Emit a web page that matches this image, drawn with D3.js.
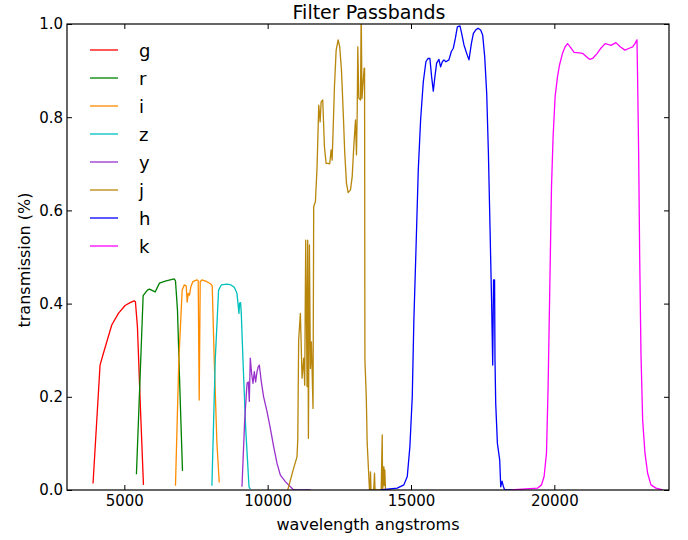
<!DOCTYPE html>
<html>
<head>
<meta charset="utf-8">
<script src="https://cdn.jsdelivr.net/npm/d3@7"></script>
<style>
  body { margin: 0; background: #fff; }
  svg { display: block; font-family: "DejaVu Sans", sans-serif; }
</style>
</head>
<body>
<div id="chart-container"></div>
<script>
const width = 688;
const height = 540;
const margin = { top: 24, right: 20, bottom: 50, left: 67 };

// [wavelength (angstrom), transmission]
const gBand = [[3908,0.014],[4153,0.268],[4268,0.293],[4561,0.354],[4793,0.379],[5027,0.396],[5201,0.402],[5341,0.406],[5387,0.404],[5457,0.350],[5551,0.193],[5667,0.011]];
const rBand = [[5422,0.034],[5656,0.417],[5806,0.429],[5876,0.431],[6075,0.425],[6226,0.444],[6425,0.448],[6599,0.451],[6739,0.453],[6784,0.449],[6854,0.386],[6924,0.243],[7029,0.041]];
const iBand = [[6784,0.009],[6901,0.279],[7018,0.429],[7088,0.440],[7158,0.438],[7193,0.403],[7228,0.422],[7273,0.418],[7320,0.436],[7390,0.447],[7530,0.451],[7577,0.449],[7612,0.193],[7647,0.447],[7706,0.451],[7880,0.447],[8020,0.442],[8066,0.438],[8136,0.279],[8230,0.100],[8311,0.016]];
const zBand = [[8055,0.009],[8171,0.279],[8288,0.429],[8381,0.440],[8580,0.442],[8720,0.440],[8835,0.435],[8929,0.422],[8999,0.379],[9020,0.401],[9055,0.402],[9080,0.379],[9139,0.279],[9230,0.136],[9349,0.007],[9394,0.002]];
const yBand = [[9104,0.007],[9196,0.147],[9280,0.229],[9325,0.232],[9360,0.190],[9394,0.283],[9440,0.250],[9489,0.229],[9534,0.254],[9580,0.232],[9629,0.254],[9674,0.265],[9709,0.268],[9744,0.250],[9779,0.232],[9859,0.200],[9978,0.168],[10093,0.132],[10209,0.093],[10327,0.057],[10443,0.032],[10617,0.018],[10792,0.007],[10907,0],[11500,0]];
const jBand = [[10700,0],[10907,0.047],[11023,0.071],[11050,0.107],[11081,0.322],[11141,0.379],[11200,0.240],[11258,0.283],[11292,0.225],[11327,0.536],[11375,0.222],[11396,0.536],[11421,0.111],[11456,0.526],[11491,0.261],[11526,0.318],[11582,0.175],[11606,0.608],[11666,0.619],[11724,0.694],[11782,0.826],[11830,0.790],[11865,0.833],[11921,0.837],[11980,0.737],[12039,0.701],[12109,0.701],[12165,0.700],[12214,0.730],[12249,0.708],[12284,0.773],[12329,0.865],[12389,0.944],[12459,0.966],[12514,0.951],[12574,0.901],[12633,0.815],[12689,0.723],[12749,0.658],[12808,0.638],[12889,0.644],[12948,0.672],[13004,0.737],[13063,0.794],[13098,0.719],[13123,0.808],[13144,0.951],[13179,0.841],[13239,0.837],[13262,1.03],[13290,0.840],[13365,0.905],[13380,0.905],[13392,0.280],[13440,0.200],[13472,0.100],[13552,0],[13570,0],[13587,0.039],[13605,0],[13700,0],[13727,0.036],[13745,0],[13960,0],[13996,0.118],[14010,0],[14040,0.020],[14052,0.050],[14070,0.010],[14087,0.043],[14110,0],[14300,0]];
const hBand = [[13937,0],[14520,0.004],[14751,0.011],[14870,0.029],[14961,0.093],[15044,0.200],[15100,0.365],[15170,0.508],[15254,0.687],[15335,0.794],[15429,0.876],[15520,0.919],[15590,0.926],[15659,0.926],[15719,0.887],[15778,0.856],[15834,0.887],[15894,0.916],[15974,0.924],[16033,0.908],[16093,0.919],[16149,0.923],[16219,0.919],[16323,0.923],[16407,0.941],[16477,0.948],[16547,0.969],[16617,0.994],[16708,0.996],[16767,0.980],[16848,0.955],[16942,0.937],[17022,0.923],[17106,0.958],[17176,0.980],[17256,0.987],[17337,0.991],[17431,0.987],[17501,0.976],[17571,0.930],[17641,0.851],[17700,0.723],[17756,0.565],[17815,0.393],[17850,0.268],[17880,0.451],[17915,0.451],[17930,0.280],[17955,0.186],[18014,0.100],[18095,0.064],[18130,0.007],[18176,0.019],[18225,0.007],[18270,0],[18600,0]];
const kBand = [[18479,0],[19412,0.004],[19552,0.011],[19643,0.029],[19726,0.079],[19783,0.222],[19842,0.436],[19901,0.651],[19957,0.758],[20027,0.844],[20111,0.887],[20181,0.912],[20286,0.937],[20377,0.951],[20460,0.958],[20551,0.951],[20691,0.939],[20866,0.938],[20985,0.937],[21100,0.931],[21240,0.924],[21334,0.926],[21484,0.936],[21624,0.948],[21774,0.958],[21879,0.956],[21973,0.954],[22148,0.960],[22298,0.951],[22463,0.944],[22613,0.948],[22732,0.951],[22812,0.958],[22882,0.966],[22906,0.880],[22941,0.723],[22976,0.508],[23022,0.293],[23081,0.150],[23162,0.079],[23255,0.036],[23371,0.011],[23546,0.004],[23780,0]];

const bandNames = ["g", "r", "i", "z", "y", "j", "h", "k"];
const bandData = [gBand, rBand, iBand, zBand, yBand, jBand, hBand, kBand];
const bandColors = ["#ff0000", "#008000", "#ff8c00", "#00bfbf", "#9932cc", "#b8860b", "#0000ff", "#ff00ff"];

const xTicks = [5000, 10000, 15000, 20000];
const yTicks = [0, 0.2, 0.4, 0.6, 0.8, 1.0];

const svg = d3
  .select("#chart-container")
  .append("svg")
  .attr("width", width)
  .attr("height", height);

const x = d3
  .scaleLinear()
  .domain([3000, 24000])
  .range([margin.left, width - margin.right + 1]);

const y = d3
  .scaleLinear()
  .domain([0, 1])
  .range([height - margin.bottom, margin.top]);

svg
  .append("clipPath")
  .attr("id", "plot-clip")
  .append("rect")
  .attr("x", x.range()[0])
  .attr("y", y(1))
  .attr("width", x.range()[1] - x.range()[0])
  .attr("height", y(0) - y(1));

const line = d3
  .line()
  .x((d) => x(d[0]))
  .y((d) => y(d[1]));

svg
  .append("g")
  .attr("clip-path", "url(#plot-clip)")
  .selectAll("path")
  .data(bandData)
  .join("path")
  .attr("d", line)
  .attr("fill", "none")
  .attr("stroke", (d, i) => bandColors[i])
  .attr("stroke-width", 1.3)
  .attr("stroke-linejoin", "round");

// axes: ticks point inward on all four sides
const tickLen = 5;

const styleAxis = (g) => {
  g.select(".domain").remove();
  g.selectAll(".tick line").attr("stroke", "#000");
  g.selectAll(".tick text")
    .attr("fill", "#000")
    .style("font-size", "15px")
    .style("font-family", "DejaVu Sans");
};

svg
  .append("g")
  .attr("transform", `translate(0,${y(0)})`)
  .call(d3.axisBottom(x).tickValues(xTicks).tickSizeInner(-tickLen).tickSizeOuter(0).tickPadding(5).tickFormat(d3.format("d")))
  .call(styleAxis);

svg
  .append("g")
  .attr("transform", `translate(0,${y(1)})`)
  .call(d3.axisTop(x).tickValues(xTicks).tickSizeInner(-tickLen).tickSizeOuter(0).tickFormat(""))
  .call(styleAxis);

svg
  .append("g")
  .attr("transform", `translate(${x.range()[0]},0)`)
  .call(d3.axisLeft(y).tickValues(yTicks).tickSizeInner(-tickLen).tickSizeOuter(0).tickPadding(4).tickFormat(d3.format(".1f")))
  .call(styleAxis);

svg
  .append("g")
  .attr("transform", `translate(${x.range()[1]},0)`)
  .call(d3.axisRight(y).tickValues(yTicks).tickSizeInner(-tickLen).tickSizeOuter(0).tickFormat(""))
  .call(styleAxis);

svg
  .append("rect")
  .attr("x", x.range()[0])
  .attr("y", y(1))
  .attr("width", x.range()[1] - x.range()[0])
  .attr("height", y(0) - y(1))
  .attr("fill", "none")
  .attr("stroke", "#000")
  .attr("stroke-width", 1.2);

svg
  .append("text")
  .attr("x", (x.range()[0] + x.range()[1]) / 2 + 1)
  .attr("y", 19)
  .attr("text-anchor", "middle")
  .style("font-size", "19px")
  .text("Filter Passbands");

svg
  .append("text")
  .attr("x", (x.range()[0] + x.range()[1]) / 2)
  .attr("y", 530)
  .attr("text-anchor", "middle")
  .style("font-size", "16px")
  .text("wavelength angstroms");

svg
  .append("text")
  .attr("transform", "rotate(-90)")
  .attr("x", -260)
  .attr("y", 30)
  .attr("text-anchor", "middle")
  .style("font-size", "16px")
  .text("transmission (%)");

const legend = svg.append("g").attr("transform", "translate(90,50)");

bandNames.forEach((name, i) => {
  const g = legend.append("g").attr("transform", `translate(0,${i * 28})`);
  g.append("line")
    .attr("x1", 0)
    .attr("x2", 28)
    .attr("stroke", bandColors[i])
    .attr("stroke-width", 1.3);
  g.append("text")
    .attr("x", 49)
    .attr("y", 7)
    .style("font-size", "18px")
    .text(name);
});
</script>
</body>
</html>
